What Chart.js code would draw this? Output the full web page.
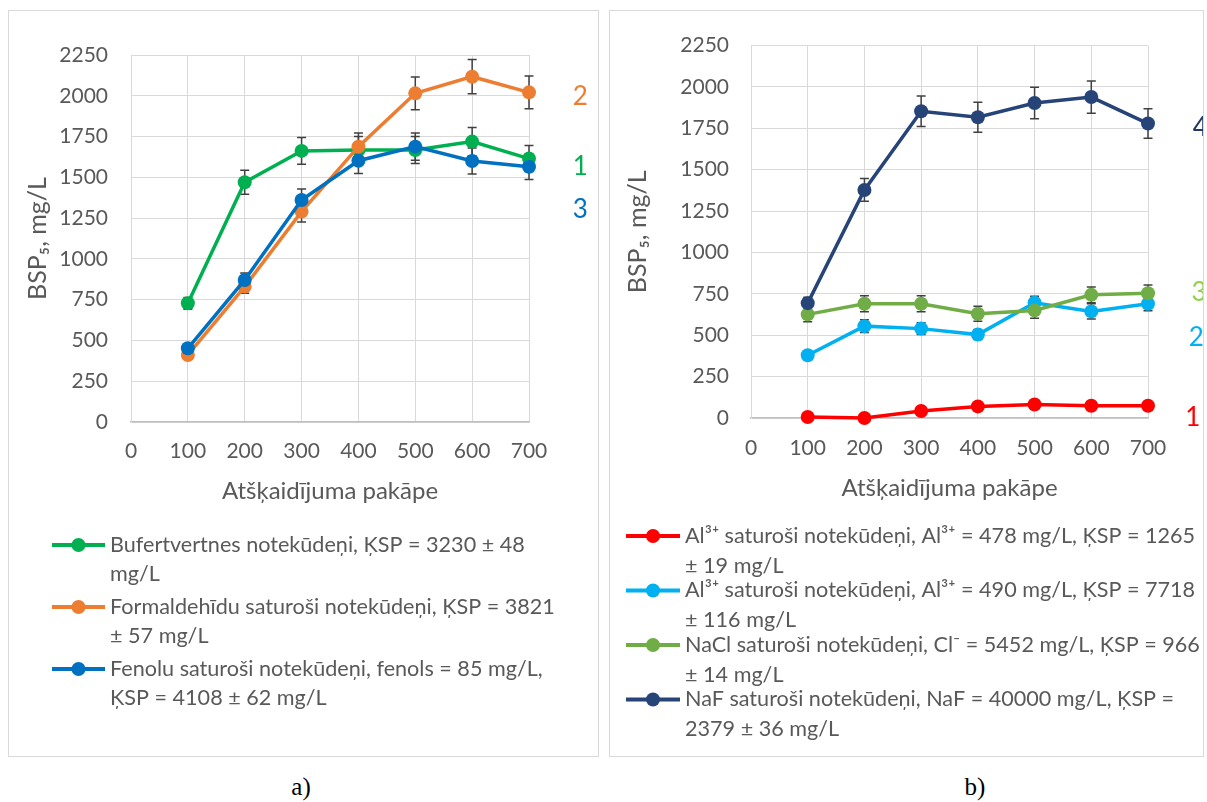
<!DOCTYPE html>
<html>
<head>
<meta charset="utf-8">
<script src="https://cdn.jsdelivr.net/npm/chart.js@4.4.1/dist/chart.umd.min.js"></script>
<style>
  html, body { margin: 0; padding: 0; background: #fff; }
  body { width: 1207px; height: 802px; position: relative; overflow: hidden; font-family: Lato, sans-serif; }
  .box { position: absolute; border: 1px solid #d9d9d9; box-sizing: border-box; overflow: hidden; background: #fff; }
  .box canvas { position: absolute; left: 0; top: 0; }
  .cap { position: absolute; font-family: "Liberation Serif", "Times New Roman", serif; font-size: 25px; color: #000; transform: translate(-50%, -50%); }
</style>
</head>
<body>
<div class="box" style="left:8px;top:10px;width:591px;height:747px"><canvas id="chartA" width="589" height="745"></canvas></div>
<div class="box" style="left:609px;top:10px;width:595px;height:747px"><canvas id="chartB" width="593" height="745"></canvas></div>
<div class="cap" style="left:301px;top:787px">a)</div>
<div class="cap" style="left:975px;top:787px">b)</div>

<script>
// ---------- DATA ----------
const dilution = [100, 200, 300, 400, 500, 600, 700];
const xTickValues = [0, 100, 200, 300, 400, 500, 600, 700];
const yTickValues = [0, 250, 500, 750, 1000, 1250, 1500, 1750, 2000, 2250];
const xTitle = 'Atšķaidījuma pakāpe';
const yTitle = 'BSP₅, mg/L';

// Chart a)
const bufertvertnes = [728, 1470, 1662, 1668, 1668, 1719, 1615];
const bufertvertnesErr = [36, 73, 82, 83, 83, 86, 80];
const formaldehidu = [411, 830, 1290, 1688, 2015, 2117, 2021];
const formaldehiduErr = [21, 41, 64, 84, 100, 105, 100];
const fenolu = [452, 871, 1361, 1602, 1688, 1600, 1565];
const fenoluErr = [23, 43, 68, 78, 84, 80, 78];

const legendA = [
  ['Bufertvertnes notekūdeņi, ĶSP = 3230 ± 48', 'mg/L'],
  ['Formaldehīdu saturoši notekūdeņi, ĶSP = 3821', '± 57 mg/L'],
  ['Fenolu saturoši notekūdeņi, fenols = 85 mg/L,', 'ĶSP = 4108 ± 62 mg/L']
];
const tagsA = ['1', '2', '3'];

// Chart b)
const al478 = [6, 0, 42, 70, 82, 74, 74];
const al478Err = [1, 0, 2, 4, 4, 4, 4];
const al490 = [379, 555, 540, 504, 696, 644, 690];
const al490Err = [19, 38, 35, 30, 40, 46, 42];
const nacl = [626, 690, 690, 630, 650, 744, 754];
const naclErr = [45, 48, 48, 45, 48, 48, 50];
const naf = [694, 1378, 1853, 1817, 1903, 1939, 1779];
const nafErr = [35, 69, 92, 91, 95, 97, 89];

const legendB = [
  ['Al³⁺ saturoši notekūdeņi, Al³⁺ = 478 mg/L, ĶSP = 1265', '± 19 mg/L'],
  ['Al³⁺ saturoši notekūdeņi, Al³⁺ = 490 mg/L, ĶSP = 7718', '± 116 mg/L'],
  ['NaCl saturoši notekūdeņi, Cl⁻ = 5452 mg/L, ĶSP = 966', '± 14 mg/L'],
  ['NaF saturoši notekūdeņi, NaF = 40000 mg/L, ĶSP =', '2379 ± 36 mg/L']
];
const tagsB = ['1', '2', '3', '4'];

// ---------- STYLE ----------
const FONT = 'Lato';
const TEXT = '#595959';
const GRID = '#d9d9d9';

// ---------- PLUGINS ----------
const errorBars = {
  id: 'errorBars',
  beforeDatasetsDraw(chart) {
    const { ctx, scales: { x, y } } = chart;
    ctx.save();
    ctx.strokeStyle = '#404040';
    ctx.lineWidth = 1.5;
    chart.data.datasets.forEach(ds => {
      if (!ds.errors) return;
      ds.data.forEach((p, j) => {
        const e = ds.errors[j];
        if (!e) return;
        const px = x.getPixelForValue(p.x);
        const t = y.getPixelForValue(p.y + e);
        const b = y.getPixelForValue(p.y - e);
        ctx.beginPath();
        ctx.moveTo(px, t); ctx.lineTo(px, b);
        ctx.moveTo(px - 4.5, t); ctx.lineTo(px + 4.5, t);
        ctx.moveTo(px - 4.5, b); ctx.lineTo(px + 4.5, b);
        ctx.stroke();
      });
    });
    ctx.restore();
  }
};

const seriesTags = {
  id: 'seriesTags',
  afterDraw(chart, args, opts) {
    const { ctx, scales: { x, y } } = chart;
    ctx.save();
    ctx.font = opts.size + 'px ' + FONT;
    ctx.textAlign = 'center';
    ctx.textBaseline = 'middle';
    opts.items.forEach(it => {
      ctx.fillStyle = it.color;
      ctx.fillText(it.text, x.getPixelForValue(it.x), y.getPixelForValue(it.y));
    });
    ctx.restore();
  }
};

const stackLegend = {
  id: 'stackLegend',
  afterDraw(chart, args, o) {
    const ctx = chart.ctx;
    ctx.save();
    ctx.font = o.size + 'px ' + FONT;
    ctx.textAlign = 'left';
    ctx.textBaseline = 'middle';
    let yy = o.top;
    chart.data.datasets.forEach(ds => {
      ctx.strokeStyle = ds.borderColor;
      ctx.lineWidth = 4;
      ctx.beginPath();
      ctx.moveTo(o.left, yy); ctx.lineTo(o.left + o.sample, yy);
      ctx.stroke();
      ctx.fillStyle = ds.borderColor;
      ctx.beginPath();
      ctx.arc(o.left + o.sample / 2, yy, 7, 0, Math.PI * 2);
      ctx.fill();
      ctx.fillStyle = TEXT;
      ds.legendLines.forEach((t, k) => ctx.fillText(t, o.left + o.sample + o.gap, yy + k * o.lineHeight));
      yy += o.entryHeight;
    });
    ctx.restore();
  }
};

function makeDataset(values, errors, color, lines, order) {
  return {
    label: lines.join(' '),
    legendLines: lines,
    data: dilution.map((v, i) => ({ x: v, y: values[i] })),
    errors: errors,
    borderColor: color,
    backgroundColor: color,
    pointBackgroundColor: color,
    pointBorderColor: color,
    borderWidth: 3.5,
    pointRadius: 7,
    pointBorderWidth: 0,
    pointHoverRadius: 7,
    tension: 0,
    clip: false,
    order: order
  };
}

function makeOptions(L) {
  const tickFont = { family: FONT, size: 21 };
  return {
    responsive: false,
    animation: false,
    events: [],
    layout: { padding: { left: 0, top: L.top, right: L.right, bottom: L.bottom } },
    plugins: {
      legend: { display: false },
      tooltip: { enabled: false },
      seriesTags: { size: 26, items: L.tags },
      stackLegend: L.legend
    },
    scales: {
      x: {
        type: 'linear', min: 0, max: 700,
        afterBuildTicks: s => { s.ticks = xTickValues.map(v => ({ value: v })); },
        grid: { color: GRID, lineWidth: 1, drawTicks: false },
        border: { color: '#bfbfbf', width: 1.5 },
        ticks: { color: TEXT, font: tickFont, padding: L.xTickPad, maxRotation: 0, autoSkip: false, callback: v => String(v) },
        title: { display: true, text: xTitle, color: TEXT, font: { family: FONT, size: 24 }, padding: { top: 0, bottom: 0 } },
        afterFit: s => { s.height = L.xHeight; }
      },
      y: {
        type: 'linear', min: 0, max: 2250,
        afterBuildTicks: s => { s.ticks = yTickValues.map(v => ({ value: v })); },
        grid: { color: GRID, lineWidth: 1, drawTicks: false },
        border: { color: GRID, width: 1 },
        ticks: { color: TEXT, font: tickFont, padding: L.yTickPad, callback: v => String(v) },
        title: { display: true, text: yTitle, color: TEXT, font: { family: FONT, size: 25 }, padding: { top: L.yTitlePad, bottom: 0 } },
        afterFit: s => { s.width = L.yWidth; }
      }
    }
  };
}

// ---------- CHART a) ----------
new Chart(document.getElementById('chartA'), {
  type: 'line',
  data: {
    datasets: [
      makeDataset(bufertvertnes, bufertvertnesErr, '#00b050', legendA[0], 2),
      makeDataset(formaldehidu, formaldehiduErr, '#ed7d31', legendA[1], 1),
      makeDataset(fenolu, fenoluErr, '#0070c0', legendA[2], 0)
    ]
  },
  options: makeOptions({
    top: 44, right: 69, bottom: 250, xHeight: 84, yWidth: 122,
    xTickPad: 17, yTickPad: 23, yTitlePad: 14,
    tags: [
      { text: tagsA[1], x: 790, y: 1995, color: '#ed7d31' },
      { text: tagsA[0], x: 790, y: 1568, color: '#00b050' },
      { text: tagsA[2], x: 790, y: 1300, color: '#0070c0' }
    ],
    legend: { left: 43, sample: 53, gap: 5, top: 534, lineHeight: 29.5, entryHeight: 62, size: 21.6 }
  }),
  plugins: [errorBars, seriesTags, stackLegend]
});

// ---------- CHART b) ----------
new Chart(document.getElementById('chartB'), {
  type: 'line',
  data: {
    datasets: [
      makeDataset(al478, al478Err, '#ff0000', legendB[0], 3),
      makeDataset(al490, al490Err, '#00b0f0', legendB[1], 2),
      makeDataset(nacl, naclErr, '#70ad47', legendB[2], 1),
      makeDataset(naf, nafErr, '#264478', legendB[3], 0)
    ]
  },
  options: makeOptions({
    top: 33, right: 55, bottom: 253, xHeight: 85, yWidth: 141,
    xTickPad: 18, yTickPad: 22, yTitlePad: 13,
    tags: [
      { text: tagsB[3], x: 792, y: 1757, color: '#1f3864' },
      { text: tagsB[2], x: 790, y: 758, color: '#92d050' },
      { text: tagsB[1], x: 785, y: 487, color: '#00b0f0' },
      { text: tagsB[0], x: 779, y: 0, color: '#ff0000' }
    ],
    legend: { left: 16, sample: 54, gap: 5, top: 525, lineHeight: 30, entryHeight: 54.5, size: 21.6 }
  }),
  plugins: [errorBars, seriesTags, stackLegend]
});
</script>
</body>
</html>
